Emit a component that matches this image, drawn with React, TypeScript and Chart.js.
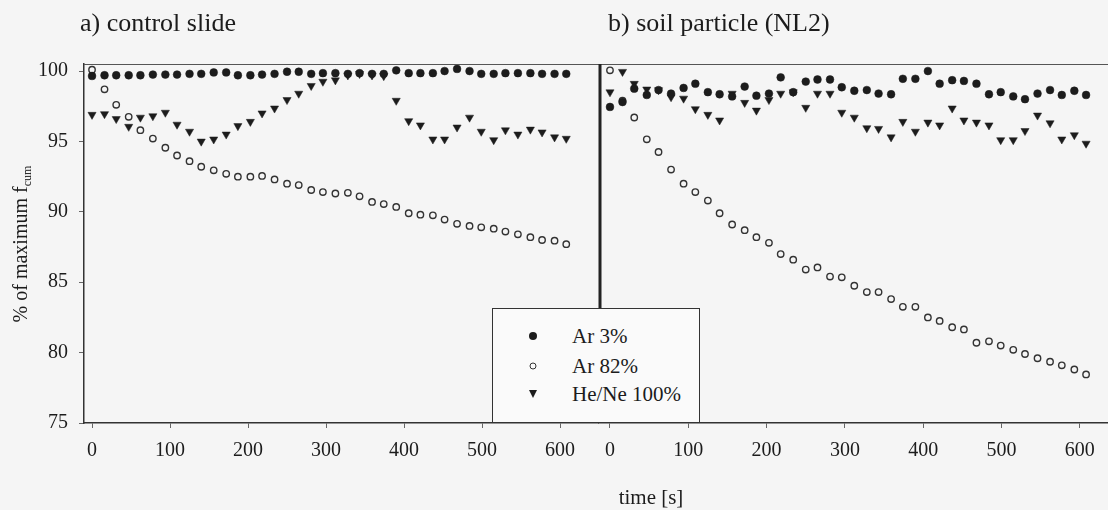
import React, { useEffect, useRef } from "react";
import { Chart, registerables } from "chart.js";
Chart.register(...registerables);

const FONT = "'Liberation Serif', 'Times New Roman', serif";

const times = [0, 16, 31, 47, 62, 78, 94, 109, 125, 140, 156, 172, 187, 203, 218, 234, 250, 265, 281, 296, 312, 328, 343, 359, 374, 390, 406, 421, 437, 452, 468, 484, 499, 515, 530, 546, 562, 577, 593, 608];
const xTicks = [0, 100, 200, 300, 400, 500, 600];
const yTicks = [75, 80, 85, 90, 95, 100];

const seriesNames = ["Ar 3%", "Ar 82%", "He/Ne 100%"];

// a) control slide
const controlAr3 = [99.65, 99.7, 99.7, 99.7, 99.7, 99.75, 99.75, 99.75, 99.8, 99.8, 99.9, 99.9, 99.7, 99.7, 99.75, 99.8, 99.95, 99.95, 99.8, 99.85, 99.85, 99.8, 99.85, 99.8, 99.8, 100.05, 99.85, 99.85, 99.85, 100.0, 100.15, 100.0, 99.8, 99.8, 99.85, 99.85, 99.85, 99.8, 99.8, 99.8];
const controlAr82 = [100.1, 98.7, 97.6, 96.75, 95.8, 95.2, 94.55, 94.0, 93.6, 93.2, 92.95, 92.7, 92.5, 92.5, 92.55, 92.3, 92.0, 91.9, 91.55, 91.4, 91.3, 91.35, 91.1, 90.7, 90.55, 90.35, 89.9, 89.8, 89.75, 89.45, 89.15, 89.0, 88.9, 88.8, 88.6, 88.4, 88.2, 88.0, 87.95, 87.7];
const controlHeNe = [96.9, 96.95, 96.6, 96.05, 96.7, 96.8, 97.05, 96.2, 95.7, 95.0, 95.15, 95.5, 96.1, 96.4, 97.0, 97.35, 97.95, 98.4, 98.95, 99.25, 99.35, 99.7, 99.8, 99.7, 99.65, 97.9, 96.45, 96.15, 95.15, 95.15, 96.0, 96.7, 95.7, 95.1, 95.8, 95.5, 95.85, 95.65, 95.3, 95.2];

// b) soil particle (NL2)
const soilAr3 = [97.45, 97.8, 98.75, 98.3, 98.65, 98.4, 98.8, 99.1, 98.5, 98.35, 98.2, 98.9, 98.25, 98.4, 99.55, 98.5, 99.25, 99.4, 99.4, 98.85, 98.6, 98.65, 98.4, 98.35, 99.45, 99.45, 100.0, 99.1, 99.35, 99.3, 99.1, 98.35, 98.5, 98.2, 98.0, 98.4, 98.65, 98.3, 98.6, 98.3];
const soilAr82 = [100.05, 97.9, 96.7, 95.15, 94.25, 93.0, 92.0, 91.4, 90.8, 89.9, 89.1, 88.7, 88.2, 87.8, 87.0, 86.6, 85.9, 86.05, 85.4, 85.35, 84.75, 84.3, 84.3, 83.8, 83.25, 83.25, 82.5, 82.25, 81.8, 81.65, 80.7, 80.8, 80.5, 80.2, 79.9, 79.6, 79.35, 79.1, 78.8, 78.45];
const soilHeNe = [98.5, 99.95, 99.1, 98.7, 98.65, 98.15, 98.05, 97.3, 96.9, 96.5, 98.4, 97.75, 97.2, 97.95, 98.4, 98.5, 97.4, 98.4, 98.4, 97.05, 96.7, 95.95, 95.9, 95.3, 96.4, 95.7, 96.35, 96.15, 97.35, 96.5, 96.35, 96.15, 95.1, 95.1, 95.75, 96.85, 96.3, 95.15, 95.45, 94.85];

const BG = "#f5f5f5";
const INK = "#1c1c1c";

function pts(vals: number[]) {
  return vals.map((v, i) => ({ x: times[i], y: v }));
}

function datasets(a3: number[], a82: number[], hn: number[]) {
  return [
    {
      label: seriesNames[0],
      data: pts(a3),
      showLine: false,
      pointStyle: "circle",
      pointRadius: 3.9,
      backgroundColor: INK,
      borderColor: INK,
      borderWidth: 0.5,
    },
    {
      label: seriesNames[1],
      data: pts(a82),
      showLine: false,
      pointStyle: "circle",
      pointRadius: 3.2,
      backgroundColor: "rgba(0,0,0,0)",
      borderColor: "#333",
      borderWidth: 1.4,
    },
    {
      label: seriesNames[2],
      data: pts(hn),
      showLine: false,
      pointStyle: "triangle",
      rotation: 180,
      pointRadius: 4.7,
      backgroundColor: INK,
      borderColor: INK,
      borderWidth: 0.5,
    },
  ];
}

function frame(left: boolean) {
  return {
    id: "frame" + (left ? "L" : "R"),
    afterDraw(chart: any) {
      const { ctx, chartArea: a } = chart;
      ctx.save();
      ctx.strokeStyle = "#555";
      ctx.lineWidth = 1;
      ctx.beginPath();
      ctx.moveTo(a.left, a.top + 0.5);
      ctx.lineTo(a.right, a.top + 0.5);
      ctx.stroke();
      if (!left) {
        ctx.strokeStyle = "#222";
        ctx.lineWidth = 3;
        ctx.beginPath();
        ctx.moveTo(a.left + 2, a.top);
        ctx.lineTo(a.left + 2, a.bottom);
        ctx.stroke();
      }
      ctx.restore();
    },
  };
}

function makeConfig(left: boolean): any {
  const tickFont = { family: FONT, size: 20 };
  const yScale: any = {
    type: "linear",
    display: left,
    min: 75,
    max: 100.5,
    afterBuildTicks: (s: any) => {
      s.ticks = yTicks.map((v) => ({ value: v }));
    },
    ticks: { font: tickFont, color: INK, padding: 11, autoSkip: false },
    grid: { drawOnChartArea: false, drawTicks: true, tickLength: 5, color: "#666" },
    border: { display: true, color: "#333", width: 1.5 },
  };
  if (left) {
    yScale.afterFit = (s: any) => {
      s.width = 84;
      s.paddingTop = 0;
      s.paddingBottom = 0;
    };
  }
  return {
    type: "scatter",
    data: {
      datasets: left
        ? datasets(controlAr3, controlAr82, controlHeNe)
        : datasets(soilAr3, soilAr82, soilHeNe),
    },
    options: {
      animation: false,
      responsive: false,
      events: [],
      layout: { autoPadding: false, padding: { top: 64, right: left ? 2 : 0, left: 0, bottom: 0 } },
      plugins: { legend: { display: false }, tooltip: { enabled: false } },
      scales: {
        x: {
          type: "linear",
          min: left ? -10.3 : -15.3,
          max: left ? 648.7 : 636,
          afterBuildTicks: (s: any) => {
            s.ticks = xTicks.map((v) => ({ value: v }));
          },
          afterFit: (s: any) => {
            s.height = 87;
            s.paddingLeft = 0;
            s.paddingRight = 0;
          },
          ticks: { font: tickFont, color: INK, padding: 11, maxRotation: 0, autoSkip: false },
          grid: { drawOnChartArea: false, drawTicks: true, tickLength: 5, color: "#666" },
          border: { display: true, color: "#333", width: 1.5 },
        },
        y: yScale,
      },
    },
    plugins: [frame(left)],
  };
}

function Panel({ left }: { left: boolean }) {
  const ref = useRef<HTMLCanvasElement>(null);
  useEffect(() => {
    const chart = new Chart(ref.current as HTMLCanvasElement, makeConfig(left));
    return () => chart.destroy();
  }, [left]);
  return (
    <canvas
      ref={ref}
      width={left ? 600 : 510}
      height={510}
      style={{ position: "absolute", left: left ? 0 : 598, top: 0, width: left ? 600 : 510, height: 510 }}
    />
  );
}

function Marker({ kind }: { kind: number }) {
  if (kind === 0)
    return <div style={{ width: 8, height: 8, borderRadius: "50%", background: INK }} />;
  if (kind === 1)
    return (
      <div style={{ width: 7, height: 7, borderRadius: "50%", border: "1.4px solid #333", boxSizing: "border-box" }} />
    );
  return (
    <div
      style={{
        width: 0,
        height: 0,
        borderLeft: "4.5px solid transparent",
        borderRight: "4.5px solid transparent",
        borderTop: "8px solid " + INK,
      }}
    />
  );
}

export default function App() {
  const rowY = [27, 57, 85];
  return (
    <div
      style={{
        position: "absolute",
        left: 0,
        top: 0,
        width: 1108,
        height: 510,
        background: BG,
        overflow: "hidden",
        fontFamily: FONT,
        color: INK,
      }}
    >
      <Panel left={true} />
      <Panel left={false} />
      <div style={{ position: "absolute", left: 80, top: 9, fontSize: 26, lineHeight: "27px", whiteSpace: "nowrap" }}>
        a) control slide
      </div>
      <div style={{ position: "absolute", left: 608, top: 9, fontSize: 26, lineHeight: "27px", whiteSpace: "nowrap" }}>
        b) soil particle (NL2)
      </div>
      <div
        style={{
          position: "absolute",
          left: 20 - 150,
          top: 244 - 12,
          width: 300,
          height: 24,
          lineHeight: "24px",
          fontSize: 20,
          textAlign: "center",
          transform: "rotate(-90deg)",
          whiteSpace: "nowrap",
        }}
      >
        % of maximum f<sub style={{ fontSize: 12, verticalAlign: "-4px" }}>cum</sub>
      </div>
      <div
        style={{
          position: "absolute",
          left: 551,
          top: 485,
          width: 200,
          textAlign: "center",
          fontSize: 21,
          lineHeight: "24px",
        }}
      >
        time [s]
      </div>
      <div
        style={{
          position: "absolute",
          left: 492,
          top: 308,
          width: 208,
          height: 115,
          border: "1px solid #333",
          background: "#fafafa",
          boxSizing: "border-box",
        }}
      >
        {seriesNames.map((n, i) => (
          <React.Fragment key={n}>
            <div
              style={{
                position: "absolute",
                left: 40,
                top: rowY[i],
                transform: "translate(-50%, -50%)",
              }}
            >
              <Marker kind={i} />
            </div>
            <div
              style={{
                position: "absolute",
                left: 79,
                top: rowY[i] - 12,
                fontSize: 21,
                lineHeight: "24px",
                whiteSpace: "nowrap",
              }}
            >
              {n}
            </div>
          </React.Fragment>
        ))}
      </div>
    </div>
  );
}
